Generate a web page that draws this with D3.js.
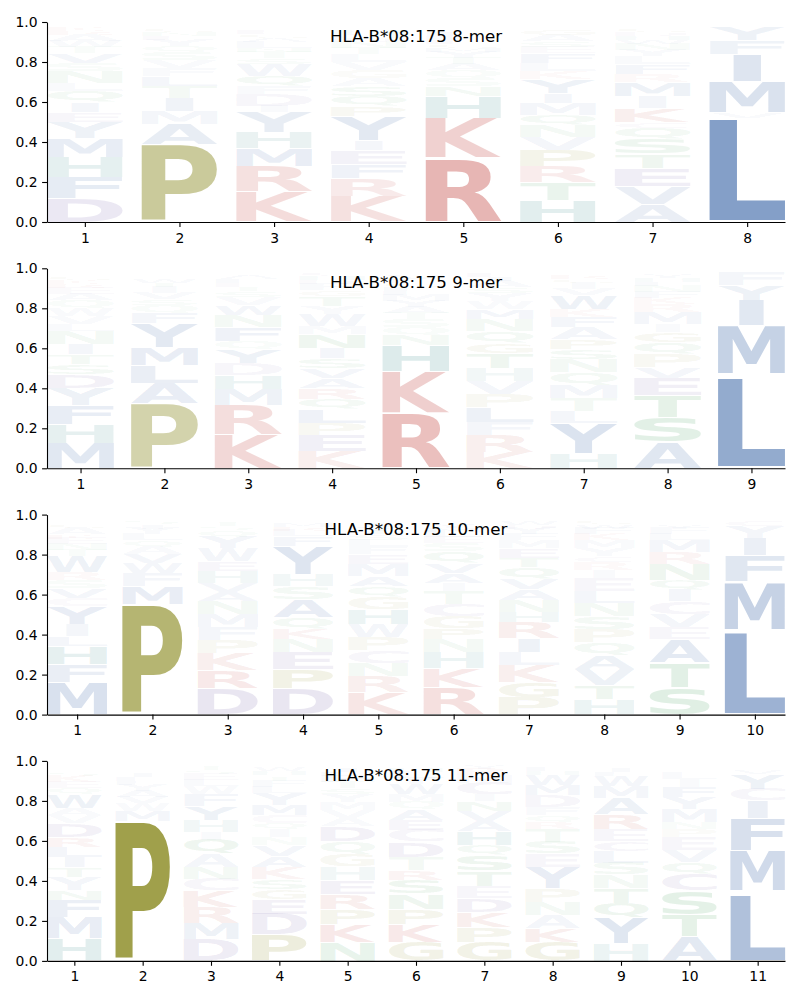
<!DOCTYPE html>
<html><head><meta charset="utf-8">
<script src="https://cdn.jsdelivr.net/npm/d3@7"></script>
<style>body{margin:0;background:#fff} svg{display:block}</style>
</head><body>
<svg id="chart" width="800" height="1000"></svg>
<script>
const allele = "HLA-B*08:175";
const lengths = [8, 9, 10, 11];
const yTicks = [0, 0.2, 0.4, 0.6, 0.8, 1.0];

// Each position: [residue, frequency] stacked from bottom to top
const mer8 = [
  [["D",.12],["F",.105],["H",.10],["M",.095],["Y",.08],["E",.05],["I",.05],["Q",.055],["L",.04],["N",.06],["S",.04],["V",.05],["T",.03],["W",.03],["A",.03],["R",.02],["K",.02],["G",.01]],
  [["P",.39],["A",.10],["M",.065],["I",.065],["T",.06],["L",.05],["F",.04],["V",.04],["S",.04],["Q",.03],["Y",.03],["E",.02],["N",.02],["G",.02],["K",.01]],
  [["K",.15],["R",.13],["M",.09],["H",.08],["Y",.10],["I",.03],["D",.06],["F",.04],["Q",.05],["W",.06],["S",.03],["T",.03],["N",.02],["L",.03],["A",.02],["G",.02],["E",.02],["P",.01]],
  [["K",.13],["R",.09],["F",.07],["E",.07],["I",.05],["Y",.12],["P",.05],["Q",.05],["S",.05],["A",.04],["G",.04],["V",.04],["L",.04],["T",.03],["N",.03],["D",.02],["M",.02],["H",.02],["W",.01]],
  [["R",.32],["K",.20],["H",.11],["N",.05],["S",.04],["Q",.04],["A",.03],["T",.03],["Y",.03],["M",.02],["G",.02],["E",.02],["L",.02],["F",.02],["V",.01],["I",.01],["P",.01]],
  [["H",.11],["T",.09],["R",.08],["P",.08],["V",.065],["N",.06],["Q",.05],["M",.06],["I",.05],["Y",.07],["K",.04],["L",.04],["F",.05],["E",.03],["S",.03],["A",.03],["G",.03],["W",.01]],
  [["A",.09],["V",.09],["E",.09],["T",.07],["S",.075],["Q",.055],["C",.03],["K",.07],["I",.06],["M",.07],["R",.04],["F",.05],["L",.04],["Y",.03],["N",.03],["W",.02],["H",.02],["D",.02],["G",.02]],
  [["L",.52],["V",.025],["M",.158],["I",.138],["F",.067],["Y",.067]]
];
const mer9 = [
  [["M",.125],["H",.095],["F",.095],["Y",.085],["D",.07],["S",.05],["T",.05],["I",.05],["N",.065],["L",.035],["V",.04],["W",.04],["Q",.04],["A",.03],["E",.03],["R",.02],["K",.02],["G",.02],["P",.01]],
  [["P",.325],["A",.10],["L",.09],["M",.09],["Y",.12],["F",.05],["Q",.04],["S",.03],["V",.03],["I",.03],["T",.02],["W",.02],["N",.01],["G",.01],["R",.01]],
  [["K",.17],["R",.145],["M",.08],["H",.07],["D",.06],["Y",.07],["Q",.04],["F",.07],["N",.06],["W",.05],["V",.04],["S",.03],["T",.02],["E",.02],["L",.02],["A",.02],["G",.01]],
  [["K",.085],["E",.08],["P",.06],["L",.07],["Q",.05],["R",.055],["A",.05],["V",.05],["S",.05],["I",.05],["N",.07],["M",.04],["W",.06],["Y",.04],["T",.05],["G",.03],["F",.03],["D",.02],["H",.02],["C",.02]],
  [["R",.275],["K",.21],["H",.13],["N",.05],["Q",.04],["S",.04],["T",.03],["A",.03],["Y",.03],["M",.03],["L",.02],["F",.02],["G",.02],["E",.02],["V",.02],["I",.01],["P",.01]],
  [["K",.08],["R",.085],["F",.065],["L",.075],["P",.065],["V",.065],["H",.065],["T",.075],["G",.05],["Q",.06],["N",.06],["M",.05],["W",.04],["Y",.04],["S",.03],["A",.03],["I",.02],["E",.02]],
  [["H",.075],["Y",.15],["L",.06],["T",.065],["M",.065],["Q",.065],["N",.065],["S",.05],["P",.05],["A",.06],["F",.05],["K",.04],["W",.07],["V",.03],["I",.03],["G",.02],["R",.02],["E",.01]],
  [["A",.13],["S",.125],["T",.11],["E",.085],["V",.055],["P",.065],["Q",.06],["G",.05],["I",.04],["M",.06],["R",.04],["K",.03],["F",.03],["N",.03],["L",.02],["H",.02],["Y",.02],["D",.01]],
  [["L",.455],["A",.015],["M",.245],["I",.125],["Y",.075],["F",.065]]
];
const mer10 = [
  [["M",.16],["F",.09],["H",.09],["L",.05],["I",.06],["Y",.09],["C",.04],["V",.05],["S",.04],["R",.04],["W",.08],["T",.03],["N",.03],["E",.03],["K",.02],["A",.03],["G",.02],["D",.01],["P",.01]],
  [["P",.55],["M",.09],["F",.065],["W",.05],["V",.045],["A",.04],["Q",.03],["L",.03],["Y",.03],["I",.02],["S",.02],["T",.01]],
  [["D",.13],["R",.09],["K",.085],["P",.065],["F",.065],["M",.065],["N",.065],["A",.045],["V",.045],["H",.06],["E",.05],["W",.065],["Y",.06],["Q",.03],["S",.02],["T",.02],["G",.01]],
  [["D",.13],["P",.095],["E",.085],["N",.065],["K",.05],["Q",.06],["A",.09],["S",.065],["H",.06],["Y",.14],["F",.05],["L",.03],["R",.02],["M",.02],["T",.01]],
  [["K",.11],["R",.08],["N",.065],["C",.065],["P",.065],["W",.065],["H",.075],["G",.065],["Q",.05],["A",.05],["M",.06],["E",.05],["F",.04],["L",.03],["S",.03],["T",.02],["Y",.02],["I",.02],["V",.01]],
  [["R",.135],["K",.095],["H",.08],["N",.065],["P",.055],["G",.06],["C",.06],["T",.065],["I",.04],["A",.05],["V",.05],["Q",.06],["S",.04],["E",.03],["L",.03],["M",.02],["Y",.02],["F",.01]],
  [["P",.085],["G",.075],["K",.085],["L",.065],["I",.07],["R",.08],["H",.05],["N",.06],["A",.055],["V",.055],["Q",.055],["T",.045],["E",.05],["M",.04],["F",.03],["Y",.03],["D",.02],["W",.02]],
  [["H",.075],["T",.07],["V",.08],["A",.07],["Q",.065],["P",.065],["S",.065],["N",.065],["L",.06],["E",.065],["I",.04],["R",.04],["C",.03],["Y",.04],["M",.04],["K",.03],["F",.03],["W",.02],["G",.02]],
  [["S",.135],["T",.125],["A",.115],["E",.06],["V",.065],["C",.065],["I",.06],["Q",.045],["N",.08],["R",.06],["M",.06],["L",.03],["F",.03],["Y",.02],["D",.01],["G",.01]],
  [["L",.415],["K",.01],["M",.24],["F",.13],["I",.085],["Y",.06],["C",.03]]
];
const mer11 = [
  [["H",.11],["M",.11],["F",.085],["N",.05],["Y",.065],["T",.05],["I",.05],["L",.05],["R",.05],["D",.07],["V",.04],["A",.035],["W",.07],["Q",.03],["E",.03],["K",.03],["S",.02],["G",.01],["C",.01],["P",.01]],
  [["P",.70],["M",.05],["W",.04],["V",.03],["A",.03],["Y",.03],["F",.02],["L",.02],["I",.02],["S",.01],["T",.01],["Q",.01],["N",.01]],
  [["D",.11],["M",.08],["R",.08],["K",.08],["C",.06],["N",.06],["A",.065],["Q",.07],["I",.04],["H",.06],["Y",.07],["F",.06],["W",.04],["L",.03],["E",.03],["S",.02],["T",.02],["V",.01]],
  [["P",.13],["D",.105],["E",.075],["G",.05],["S",.05],["K",.06],["A",.055],["V",.055],["N",.04],["I",.04],["Q",.03],["C",.04],["M",.05],["Y",.06],["L",.03],["F",.03],["T",.02],["R",.01],["H",.02],["W",.02]],
  [["N",.095],["K",.09],["P",.075],["R",.075],["E",.07],["H",.065],["G",.065],["Q",.065],["D",.075],["A",.04],["V",.04],["M",.04],["Y",.04],["S",.03],["T",.03],["F",.03],["L",.02],["I",.02],["W",.01]],
  [["G",.095],["K",.09],["P",.075],["N",.075],["S",.07],["R",.05],["T",.065],["D",.075],["C",.06],["E",.05],["A",.05],["Q",.04],["M",.04],["W",.05],["Y",.03],["L",.03],["H",.02],["V",.01]],
  [["G",.095],["P",.075],["K",.075],["D",.07],["E",.06],["T",.075],["S",.08],["Q",.05],["H",.07],["A",.05],["V",.05],["N",.05],["I",.03],["C",.06],["M",.04],["R",.03],["Y",.02]],
  [["G",.095],["K",.07],["A",.065],["N",.065],["P",.065],["Y",.11],["E",.065],["S",.06],["T",.065],["R",.035],["Q",.035],["F",.04],["D",.06],["M",.05],["W",.05],["H",.02],["L",.02]],
  [["H",.085],["Y",.13],["Q",.075],["T",.075],["N",.065],["S",.06],["L",.06],["C",.05],["E",.06],["R",.075],["A",.08],["M",.06],["W",.05],["F",.02],["I",.02],["V",.01]],
  [["A",.12],["T",.11],["S",.12],["C",.085],["Q",.06],["V",.06],["E",.065],["P",.04],["N",.035],["M",.065],["Y",.06],["F",.05],["I",.04],["L",.03],["K",.01],["R",.01]],
  [["L",.335],["A",.015],["M",.20],["F",.165],["I",.085],["C",.06],["Y",.075],["V",.02]]
];
const panels = [mer8, mer9, mer10, mer11];

// ---- styling ----
const groupColor = {
  blue: "#5076b0", red: "#c85550", purple: "#8172b2",
  green: "#55a868", olive: "#9b9b41", teal: "#3c8c8c"
};
const residueGroup = {
  A:"blue",V:"blue",L:"blue",I:"blue",M:"blue",F:"blue",W:"blue",Y:"blue",
  K:"red",R:"red", D:"purple",E:"purple",C:"purple",
  S:"green",T:"green",N:"green",Q:"green", P:"olive",G:"olive", H:"teal"
};
const FONT = "DejaVu Sans";
const left = 47, right = 785, panelH = 200;
const panelTops = [22, 268.3, 514.6, 760.9];
const vpad = 0.04;

const ctx = document.createElement("canvas").getContext("2d");
ctx.font = `bold 200px "${FONT}"`;
const gm = {};
function glyph(ch) {
  if (!gm[ch]) {
    const m = ctx.measureText(ch);
    gm[ch] = {l: m.actualBoundingBoxLeft, r: m.actualBoundingBoxRight,
              a: m.actualBoundingBoxAscent, d: m.actualBoundingBoxDescent};
  }
  return gm[ch];
}
const eW = glyph("E").l + glyph("E").r;

const svg = d3.select("#chart");

panels.forEach((data, pi) => {
  const n = data.length;
  const top = panelTops[pi], bottom = top + panelH;
  const x = d3.scaleLinear().domain([0.6, n + 0.4]).range([left, right]);
  const y = d3.scaleLinear().domain([0, 1]).range([bottom, top]);
  const g = svg.append("g");

  const rows = [];
  data.forEach((stack, i) => {
    let cum = 0;
    stack.forEach(([ch, f]) => {
      rows.push({pos: i + 1, ch, f, y0: cum, y1: cum + f});
      cum += f;
    });
  });

  g.selectAll("text.letter").data(rows).join("text")
    .attr("class", "letter")
    .attr("font-family", FONT).attr("font-weight", "bold").attr("font-size", 200)
    .attr("fill", d => groupColor[residueGroup[d.ch]])
    .attr("fill-opacity", d => Math.min(1, 1.35 * d.f))
    .attr("x", d => glyph(d.ch).l)
    .attr("y", d => glyph(d.ch).a)
    .attr("transform", d => {
      const gl = glyph(d.ch);
      const w = gl.l + gl.r, h = gl.a + gl.d;
      const bx0 = x(d.pos - 0.4), bw = x(d.pos + 0.4) - bx0;
      const pad = d.f * vpad / 2;
      const ty = y(d.y1 - pad), by = y(d.y0 + pad);
      const sx = bw / Math.max(w, eW), sy = (by - ty) / h;
      const tx = bx0 + (bw - w * sx) / 2;
      return `translate(${tx},${ty}) scale(${sx},${sy})`;
    })
    .text(d => d.ch);

  const yAxis = g.append("g").attr("transform", `translate(${left},0)`)
    .call(d3.axisLeft(y).tickValues(yTicks).tickFormat(d3.format(".1f"))
      .tickSize(4.9).tickSizeOuter(0).tickPadding(4.5));
  const xAxis = g.append("g").attr("transform", `translate(0,${bottom})`)
    .call(d3.axisBottom(x).tickValues(d3.range(1, n + 1)).tickFormat(d3.format("d"))
      .tickSize(4.9).tickSizeOuter(0).tickPadding(4.5));
  [yAxis, xAxis].forEach(a => {
    a.selectAll("path.domain").attr("stroke", "#000").attr("stroke-width", 1.1);
    a.selectAll(".tick line").attr("stroke", "#000").attr("stroke-width", 1.1);
    a.selectAll(".tick text").attr("font-family", FONT).attr("font-size", 13.9).attr("fill", "#000");
  });
  xAxis.selectAll(".tick text").attr("dy", "0.8em");

  g.append("text")
    .attr("x", (left + right) / 2).attr("y", top + 20)
    .attr("text-anchor", "middle")
    .attr("font-family", FONT).attr("font-size", 16.67).attr("fill", "#000")
    .text(`${allele} ${lengths[pi]}-mer`);
});
</script>
</body></html>
